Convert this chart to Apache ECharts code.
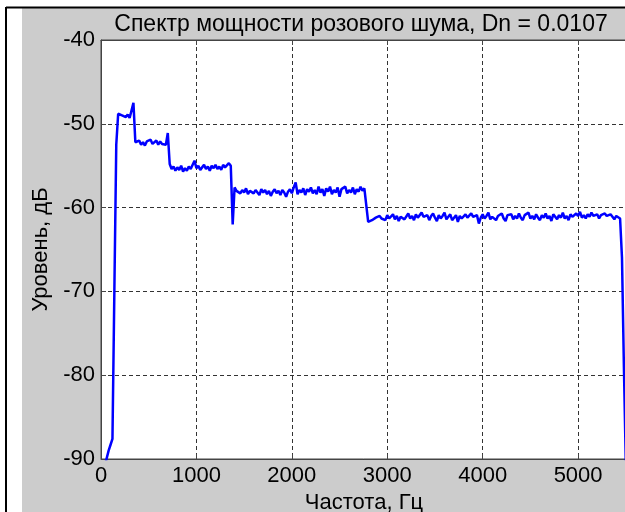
<!DOCTYPE html>
<html>
<head>
<meta charset="utf-8">
<script src="https://cdn.jsdelivr.net/npm/echarts@6/dist/echarts.min.js"></script>
<style>
  html, body { margin: 0; padding: 0; background: #fff; }
  #chart { width: 625px; height: 512px; }
</style>
</head>
<body>
<div id="chart"></div>
<script>
// шаг по частоте, Гц
const freqStep = 20;

// уровни, дБ (по порядку частот 0, 20, 40, ...)
const riseDb = [-93, -92, -90.8, -89.9, -89, -88.3, -87.6, -70, -52.5];
const band1Db = [-48.8, -48.7, -49.0, -48.8, -49.2, -48.9, -49.3, -49.5, -47.5];
const band2Db = [-52.2, -52.4, -52.0, -52.5, -52.2, -52.6, -52.1, -52.3, -51.9, -52.4,
  -52.2, -52.0, -52.5, -52.1, -52.4, -52.2, -52.5, -51.1];
const band3Db = [-54.8, -55.4, -55.1, -55.6, -55.2, -55.5, -55.0, -55.7, -55.3, -55.6,
  -55.1, -55.4, -55.2, -54.4, -55.3, -55.0, -55.5, -55.2, -54.9, -55.4,
  -55.1, -55.6, -55.0, -55.3, -54.9, -55.4, -55.1, -55.5, -54.9, -55.2,
  -55.0, -54.7, -55.0];
const band4Db = [-62.0,
  -57.6, -58.0, -57.8, -58.3, -57.9, -58.2, -57.7, -58.4, -58.0, -57.8,
  -58.3, -57.9, -58.1, -58.5, -57.8, -58.2, -57.9, -58.4, -58.0, -58.6,
  -58.1, -57.8, -58.3, -58.0, -58.5, -57.9, -58.2, -58.7, -58.1, -57.8,
  -58.3, -57.6, -57.0, -58.4, -57.9, -58.2, -57.7, -58.5, -57.8, -58.1,
  -57.6, -58.3, -57.9, -58.4, -57.5, -58.2, -57.8, -58.6, -57.7, -58.1,
  -57.5, -58.4, -57.9, -58.2, -57.6, -58.7, -57.8, -58.0, -57.5, -58.3,
  -57.9, -58.2, -57.6, -58.4, -57.8, -58.1, -57.5, -58.0, -57.7, -57.9];
const band5Db = [
  -61.7, -61.9, -61.5, -61.6, -61.2, -61.4, -61.0, -61.3, -61.1, -61.5,
  -60.9, -61.3, -61.2, -60.8, -61.4, -61.0, -61.6, -61.1, -60.9, -61.4,
  -61.2, -60.7, -61.3, -61.0, -61.5, -60.8, -61.2, -61.4, -60.6, -61.1,
  -61.3, -60.9, -61.5, -61.0, -60.7, -61.2, -61.6, -60.9, -61.3, -61.0,
  -60.6, -61.4, -61.1, -60.8, -61.5, -61.2, -60.9, -61.7, -61.0, -61.3,
  -61.1, -60.8, -61.2, -61.4, -60.7, -61.1, -61.3, -60.9, -61.9, -61.2,
  -60.8, -61.3, -61.0, -60.6, -61.4, -61.1, -60.9, -61.5, -61.0, -61.2,
  -60.7, -61.3, -61.6, -60.9, -61.1, -60.8, -61.4, -61.0, -61.3, -60.7,
  -61.2, -61.5, -60.9, -61.1, -60.6, -61.3, -61.0, -61.4, -60.8, -61.2,
  -61.5, -60.9, -61.2, -60.7, -61.3, -61.0, -61.6, -60.8, -61.1, -61.4,
  -60.9, -61.2, -60.6, -61.3, -61.0, -61.5, -60.8, -61.1, -61.3, -60.7,
  -61.0, -60.5, -61.2, -60.9, -61.3, -60.8, -61.1, -60.6, -61.0, -61.2,
  -60.8, -61.3, -60.9, -61.1, -60.7, -61.0, -61.2, -60.8, -61.1, -61.4,
  -61.0, -61.1, -61.3];
const fallDb = [-66, -79, -90.5];

const xTicks = [0, 1000, 2000, 3000, 4000, 5000];
const yTicks = [-90, -80, -70, -60, -50, -40];

const levels = [].concat(riseDb, band1Db, band2Db, band3Db, band4Db, band5Db, fallDb);
const points = levels.map((v, i) => [i * freqStep, v]);

const chart = echarts.init(document.getElementById("chart"));

const fontName = "Liberation Sans, Arial, sans-serif";
const labelFont = { color: "#000", fontSize: 22, fontFamily: fontName };
const gridLine = { show: true, lineStyle: { color: "#333", width: 1, type: [4, 3] } };

const option = {
  backgroundColor: "#cccccc",
  animation: false,
  title: {
    text: "Спектр мощности розового шума, Dn = 0.0107",
    left: 356,
    top: 8,
    textAlign: "center",
    textStyle: { color: "#000", fontSize: 23, fontWeight: "normal", fontFamily: fontName },
  },
  grid: {
    left: 101,
    top: 40,
    width: 526,
    height: 419,
    outerBoundsMode: "none",
    containLabel: false,
    show: true,
    backgroundColor: "#fff",
    borderColor: "#444",
    borderWidth: 1,
  },
  xAxis: [
    {
      type: "value",
      min: 0,
      max: 5512.5,
      interval: 1000,
      name: "Частота, Гц",
      nameLocation: "middle",
      nameGap: 31,
      nameTextStyle: labelFont,
      axisLine: { show: true, onZero: false, lineStyle: { color: "#444" } },
      axisTick: { show: true, inside: true, length: 5, lineStyle: { color: "#444" } },
      axisLabel: {
        ...labelFont,
        margin: 6,
        showMaxLabel: false,
        formatter: (v) => (xTicks.includes(v) ? String(v) : ""),
      },
      splitLine: gridLine,
    },
    {
      type: "value",
      position: "top",
      min: 0,
      max: 5512.5,
      interval: 1000,
      axisLine: { show: true, onZero: false, lineStyle: { color: "#444" } },
      axisTick: { show: true, inside: true, length: 5, lineStyle: { color: "#444" } },
      axisLabel: { show: false },
      splitLine: { show: false },
    },
  ],
  yAxis: {
    type: "value",
    min: -90,
    max: -40,
    interval: 10,
    name: "Уровень, дБ",
    nameLocation: "middle",
    nameGap: 48,
    nameRotate: 90,
    nameTextStyle: labelFont,
    axisLine: { show: true, onZero: false, lineStyle: { color: "#444" } },
    axisTick: { show: true, inside: true, length: 5, lineStyle: { color: "#444" } },
    axisLabel: {
      ...labelFont,
      margin: 6,
      formatter: (v) => (yTicks.includes(v) ? String(v) : ""),
    },
    splitLine: gridLine,
  },
  // рамка окна слева и сверху
  graphic: [
    { type: "rect", shape: { x: 0, y: 0, width: 625, height: 8 }, style: { fill: "#fff" }, silent: true },
    { type: "rect", shape: { x: 0, y: 0, width: 22, height: 512 }, style: { fill: "#fff" }, silent: true },
    { type: "line", shape: { x1: 6, y1: 7.5, x2: 625, y2: 7.5 }, style: { stroke: "#000", lineWidth: 2 }, silent: true },
    { type: "line", shape: { x1: 6, y1: 7, x2: 6, y2: 512 }, style: { stroke: "#000", lineWidth: 2 }, silent: true },
  ],
  series: [
    {
      type: "line",
      data: points,
      xAxisIndex: 0,
      showSymbol: false,
      lineStyle: { color: "#0000ff", width: 2.5 },
      clip: true,
    },
  ],
};

chart.setOption(option);
</script>
</body>
</html>
